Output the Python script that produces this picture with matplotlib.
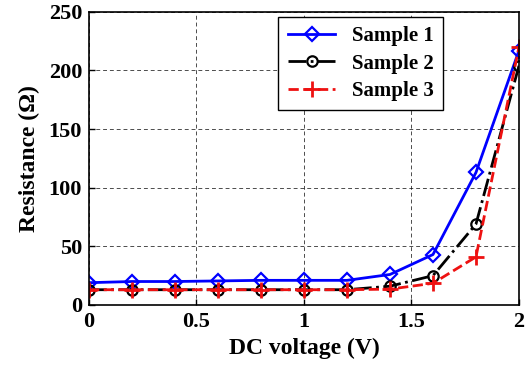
import numpy as np
import matplotlib
matplotlib.use("Agg")
import matplotlib.pyplot as plt

# DC voltage sweep and measured resistance for the three samples
voltage = [0, 0.2, 0.4, 0.6, 0.8, 1.0, 1.2, 1.4, 1.6, 1.8, 2.0]
sample1 = [19, 20, 20, 20.5, 21, 21, 21, 26, 43, 113, 217]
sample2 = [13, 13, 13, 13, 13, 13, 13, 16, 25, 69, 204]
sample3 = [13, 13, 13, 13, 13, 13, 13, 13.5, 18.5, 41, 220]

plt.rcParams["font.family"] = ["Liberation Serif", "DejaVu Serif"]
plt.rcParams["font.weight"] = "bold"

fig = plt.figure(figsize=(5.25, 3.71), dpi=100)
ax = fig.add_axes([0.1695, 0.178, 0.819, 0.79])

ax.plot(voltage, sample1, "-", color="#0000ff", lw=2, marker="D", ms=7.5,
        mfc="none", mew=1.6, label="Sample 1")
ax.plot(voltage, sample2, "-.", color="black", lw=2, marker="o", ms=7.5,
        mfc="none", mew=1.6, label="Sample 2")
ax.plot(voltage, sample3, "--", color="#ee1111", lw=2, marker="+", ms=11,
        mew=2, label="Sample 3")

ax.set_xlim(0, 2)
ax.set_ylim(0, 250)
ax.set_xticks([0, 0.5, 1, 1.5, 2])
ax.set_xticklabels(["0", "0.5", "1", "1.5", "2"])
ax.set_yticks([0, 50, 100, 150, 200, 250])
ax.tick_params(labelsize=16, direction="in", length=4, width=1, pad=5)
ax.grid(True, color="black", ls=(0, (4, 3)), lw=0.7, alpha=0.7)
for s in ax.spines.values():
    s.set_linewidth(1.2)

ax.set_xlabel("DC voltage (V)", fontsize=17, fontweight="bold", labelpad=4)
ax.set_ylabel("Resistance (\u03a9)", fontsize=17, fontweight="bold", labelpad=6)

leg = ax.legend(loc="upper left", bbox_to_anchor=(0.44, 0.983), fontsize=15,
                fancybox=False, framealpha=1, edgecolor="black",
                handlelength=2.3, borderpad=0.45, labelspacing=0.35,
                borderaxespad=0)
leg.get_frame().set_linewidth(1)
for t in leg.get_texts():
    t.set_fontweight("bold")

fig.savefig("out.png", dpi=100)
